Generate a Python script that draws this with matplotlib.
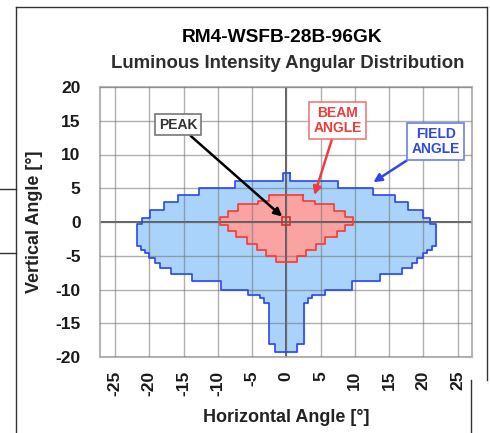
import numpy as np
import matplotlib
matplotlib.use("Agg")
import matplotlib.pyplot as plt
from matplotlib.lines import Line2D

plt.rcParams['font.family'] = ['Liberation Sans', 'DejaVu Sans']
plt.rcParams['font.weight'] = 'bold'

# field angle contour: band edges (vertical angle) and half width (horizontal angle)
field_edges = [7.2, 6.1, 5.0, 4.0, 3.0, 1.8, 0.6, -0.3, -3.5, -4.1, -4.6, -5.3,
               -6.1, -6.8, -7.7, -8.8, -10.0, -10.8, -11.3, -12.0, -18.0, -19.2]
field_half = [0.5, 7.5, 12.7, 15.8, 17.8, 19.9, 21.0, 21.8, 21.2, 20.6, 20.0,
              19.1, 18.4, 16.9, 13.7, 9.6, 5.6, 3.8, 3.2, 2.6, 1.6]

# beam angle contour
beam_edges = [4.0, 3.1, 2.7, 1.7, 0.7, -0.5, -1.3, -2.2, -3.2, -4.1, -5.0, -5.9]
beam_half = [2.5, 4.2, 7.0, 8.5, 9.7, 8.5, 7.4, 5.7, 4.3, 2.9, 1.5]

peak = (0.0, 0.2)

x_ticks = [-25, -20, -15, -10, -5, 0, 5, 10, 15, 20, 25]
y_ticks = [-20, -15, -10, -5, 0, 5, 10, 15, 20]


def step_outline(edges, half):
    xs, ys = [], []
    for i in range(len(half)):
        xs += [half[i], half[i]]
        ys += [edges[i], edges[i + 1]]
    for i in reversed(range(len(half))):
        xs += [-half[i], -half[i]]
        ys += [edges[i + 1], edges[i]]
    xs.append(xs[0])
    ys.append(ys[0])
    return xs, ys


fig = plt.figure(figsize=(4.9, 4.33), dpi=100)
ax = fig.add_axes([100 / 490, 76 / 433, 372 / 490, 270 / 433])

fx, fy = step_outline(field_edges, field_half)
ax.fill(fx, fy, color='#a9d3fa', zorder=1)
ax.plot(fx, fy, color='#3048e6', lw=1.2, zorder=3)

bx, by = step_outline(beam_edges, beam_half)
ax.fill(bx, by, color='#fba3a3', zorder=1.5)
ax.plot(bx, by, color='#f03c3c', lw=1.2, zorder=3)

ax.plot(peak[0], peak[1], marker='s', ms=6, mfc='none', mec='#d03030',
        mew=1.2, zorder=4)

ax.set_xlim(-27.2, 27.1)
ax.set_ylim(-20, 20)
ax.set_xticks(x_ticks)
ax.set_yticks(y_ticks)
ax.set_xticklabels([str(t) for t in x_ticks], rotation=90, fontsize=12.5,
                   fontweight='bold')
ax.set_yticklabels([str(t) for t in y_ticks], fontsize=12.5, fontweight='bold')
ax.tick_params(axis='x', length=0, pad=10, colors='#1a1a1a')
ax.tick_params(axis='y', length=0, pad=14, colors='#1a1a1a')
ax.grid(True, color='#707070', lw=1.0, alpha=0.55, zorder=2)
ax.set_axisbelow(False)
ax.axhline(0, color='#555555', lw=1.3, zorder=2.5)
ax.axvline(0, color='#555555', lw=1.3, zorder=2.5)
for s in ax.spines.values():
    s.set_color('#b5b5b5')
    s.set_linewidth(1.5)

ax.set_xlabel('Horizontal Angle [°]', fontsize=13, fontweight='bold',
              color='#222222', labelpad=9)
ax.set_ylabel('Vertical Angle [°]', fontsize=13, fontweight='bold',
              color='#222222', labelpad=9)

fig.text(282 / 490, 1 - 38 / 433, 'RM4-WSFB-28B-96GK', ha='center',
         va='center', fontsize=13.8, fontweight='bold', color='black')
fig.text(288 / 490, 1 - 63 / 433, 'Luminous Intensity Angular Distribution',
         ha='center', va='center', fontsize=13.4, fontweight='bold',
         color='#2e2e2e')

# annotations
ax.annotate('PEAK', xy=(-0.6, 0.8), xytext=(-15.8, 14.4), fontsize=10,
            fontweight='bold', color='#333333', ha='center', va='center',
            bbox=dict(boxstyle='square,pad=0.25', fc='white', ec='#777777',
                      lw=1.2),
            arrowprops=dict(arrowstyle='-|>', color='black', lw=1.8,
                            mutation_scale=12, shrinkA=0, shrinkB=0),
            zorder=6)
ax.annotate('BEAM\nANGLE', xy=(4.1, 4.0), xytext=(7.5, 15.0), fontsize=10,
            fontweight='bold', color='#f03c3c', ha='center', va='center',
            linespacing=1.05,
            bbox=dict(boxstyle='square,pad=0.3', fc='white', ec='#f07a7a',
                      lw=1.2),
            arrowprops=dict(arrowstyle='-|>', color='#f03c3c', lw=1.8,
                            mutation_scale=12, shrinkA=0, shrinkB=0),
            zorder=6)
ax.annotate('FIELD\nANGLE', xy=(12.7, 5.9), xytext=(21.8, 11.9), fontsize=10,
            fontweight='bold', color='#3048e6', ha='center', va='center',
            linespacing=1.05,
            bbox=dict(boxstyle='square,pad=0.3', fc='white', ec='#6f7fe8',
                      lw=1.2),
            arrowprops=dict(arrowstyle='-|>', color='#3048e6', lw=1.8,
                            mutation_scale=12, shrinkA=0, shrinkB=0),
            zorder=6)

# frame lines of the page
for xs, ys in [((16, 487), (7, 7)), ((16, 16), (7, 433)), ((487, 487), (7, 380)),
               ((0, 16), (189, 189)), ((0, 16), (253, 253)),
               ((471, 471), (380, 433))]:
    fig.add_artist(Line2D([x / 490 for x in xs], [1 - y / 433 for y in ys],
                          color='#333333', lw=1.0))

fig.savefig('out.png', dpi=100)
